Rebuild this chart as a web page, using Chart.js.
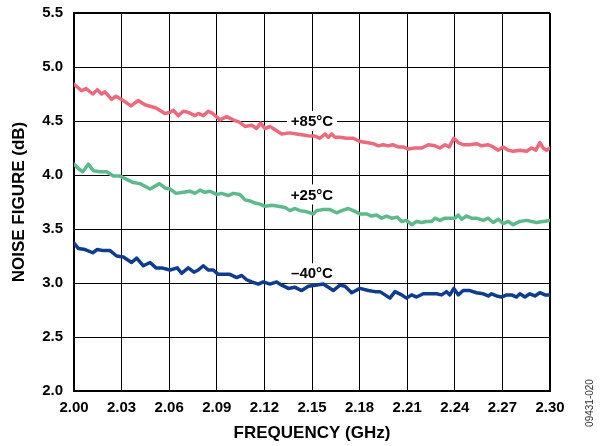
<!DOCTYPE html>
<html>
<head>
<meta charset="utf-8">
<script src="https://cdn.jsdelivr.net/npm/chart.js@4.4.1/dist/chart.umd.min.js"></script>
<style>
  html, body { margin: 0; padding: 0; background: #fff; }
</style>
</head>
<body>
<canvas id="nfChart" width="600" height="446"></canvas>
<script>
"use strict";

// noise figure vs frequency
var freq85 = [2.000, 2.0048, 2.0076, 2.0118, 2.0147, 2.0174, 2.0195, 2.0237, 2.0265, 2.0300,
  2.0359, 2.0405, 2.0447, 2.0517, 2.0573, 2.0605, 2.0626, 2.0657, 2.0689, 2.0720,
  2.0762, 2.0783, 2.0815, 2.0846, 2.0874, 2.0920, 2.0962, 2.1004, 2.1042, 2.1078,
  2.1120, 2.1151, 2.1176, 2.1204, 2.1235, 2.1277, 2.1309, 2.1361, 2.1403, 2.1445,
  2.1487, 2.1519, 2.1550, 2.1582, 2.1603, 2.1624, 2.1645, 2.1676, 2.1718, 2.1760,
  2.1802, 2.1844, 2.1886, 2.1918, 2.1949, 2.1981, 2.2008, 2.2044, 2.2075, 2.2107,
  2.2149, 2.2191, 2.2233, 2.2275, 2.2306, 2.2338, 2.2365, 2.2394, 2.2422, 2.2453,
  2.2495, 2.2537, 2.2569, 2.2611, 2.2642, 2.2674, 2.2705, 2.2737, 2.2768, 2.2810,
  2.2852, 2.2884, 2.2911, 2.2936, 2.2957, 2.2978, 2.3000];
var nf85 = [4.84, 4.78, 4.80, 4.75, 4.79, 4.75, 4.77, 4.70, 4.73, 4.70,
  4.64, 4.69, 4.65, 4.62, 4.57, 4.58, 4.60, 4.55, 4.59, 4.58,
  4.55, 4.57, 4.55, 4.59, 4.57, 4.51, 4.54, 4.51, 4.49, 4.45,
  4.46, 4.43, 4.48, 4.43, 4.45, 4.41, 4.38, 4.39, 4.38, 4.37,
  4.36, 4.36, 4.34, 4.38, 4.35, 4.38, 4.35, 4.35, 4.34, 4.34,
  4.31, 4.30, 4.29, 4.27, 4.28, 4.27, 4.28, 4.26, 4.26, 4.24,
  4.25, 4.25, 4.28, 4.27, 4.25, 4.28, 4.26, 4.34, 4.30, 4.28,
  4.28, 4.29, 4.27, 4.28, 4.26, 4.23, 4.26, 4.23, 4.22, 4.23,
  4.22, 4.25, 4.23, 4.30, 4.25, 4.23, 4.25];

var freq25 = [2.000, 2.0027, 2.0055, 2.0090, 2.0122, 2.0164, 2.0206, 2.0248, 2.0290, 2.0332,
  2.0374, 2.0416, 2.0479, 2.0538, 2.0573, 2.0605, 2.0643, 2.0689, 2.0731, 2.0762,
  2.0794, 2.0825, 2.0857, 2.0899, 2.0930, 2.0972, 2.1004, 2.1046, 2.1078, 2.1109,
  2.1141, 2.1172, 2.1204, 2.1246, 2.1288, 2.1330, 2.1361, 2.1393, 2.1424, 2.1466,
  2.1508, 2.1529, 2.1571, 2.1613, 2.1655, 2.1687, 2.1729, 2.1760, 2.1802, 2.1844,
  2.1876, 2.1907, 2.1939, 2.1970, 2.2002, 2.2037, 2.2065, 2.2096, 2.2128, 2.2159,
  2.2191, 2.2222, 2.2254, 2.2275, 2.2306, 2.2338, 2.2369, 2.2401, 2.2422, 2.2443,
  2.2474, 2.2506, 2.2537, 2.2579, 2.2611, 2.2642, 2.2674, 2.2705, 2.2737, 2.2768,
  2.2810, 2.2852, 2.2884, 2.2915, 2.2957, 2.3000];
var nf25 = [4.10, 4.06, 4.03, 4.10, 4.04, 4.03, 4.03, 3.99, 3.99, 3.96,
  3.93, 3.92, 3.87, 3.92, 3.88, 3.87, 3.83, 3.84, 3.85, 3.83,
  3.86, 3.84, 3.85, 3.82, 3.83, 3.81, 3.83, 3.82, 3.77, 3.76,
  3.74, 3.73, 3.71, 3.72, 3.71, 3.70, 3.67, 3.69, 3.67, 3.66,
  3.64, 3.67, 3.68, 3.68, 3.65, 3.67, 3.69, 3.67, 3.64, 3.64,
  3.62, 3.63, 3.60, 3.62, 3.60, 3.61, 3.57, 3.58, 3.54, 3.57,
  3.56, 3.57, 3.57, 3.60, 3.58, 3.60, 3.60, 3.60, 3.63, 3.59,
  3.62, 3.60, 3.60, 3.58, 3.60, 3.56, 3.59, 3.55, 3.57, 3.54,
  3.57, 3.58, 3.57, 3.56, 3.57, 3.58];

var freqM40 = [2.000, 2.0027, 2.0070, 2.0118, 2.0147, 2.0185, 2.0227, 2.0269, 2.0311, 2.0363,
  2.0395, 2.0437, 2.0479, 2.0517, 2.0552, 2.0605, 2.0651, 2.0678, 2.0720, 2.0756,
  2.0783, 2.0815, 2.0846, 2.0878, 2.0909, 2.0941, 2.0983, 2.1025, 2.1057, 2.1088,
  2.1120, 2.1162, 2.1193, 2.1235, 2.1277, 2.1309, 2.1351, 2.1393, 2.1435, 2.1477,
  2.1519, 2.1571, 2.1603, 2.1634, 2.1676, 2.1708, 2.1750, 2.1802, 2.1855, 2.1897,
  2.1928, 2.1960, 2.1991, 2.2023, 2.2065, 2.2096, 2.2128, 2.2159, 2.2201, 2.2243,
  2.2285, 2.2317, 2.2348, 2.2369, 2.2394, 2.2422, 2.2453, 2.2495, 2.2537, 2.2579,
  2.2611, 2.2632, 2.2663, 2.2695, 2.2726, 2.2758, 2.2789, 2.2810, 2.2842, 2.2873,
  2.2905, 2.2936, 2.2968, 2.3000];
var nfM40 = [3.37, 3.32, 3.31, 3.28, 3.31, 3.30, 3.30, 3.25, 3.24, 3.19,
  3.23, 3.16, 3.19, 3.14, 3.14, 3.12, 3.14, 3.09, 3.14, 3.10,
  3.12, 3.16, 3.12, 3.12, 3.08, 3.08, 3.08, 3.05, 3.07, 3.03,
  3.01, 2.99, 3.01, 2.99, 3.01, 2.98, 2.95, 2.96, 2.93, 2.97,
  2.98, 2.99, 2.96, 2.93, 2.98, 2.97, 2.91, 2.95, 2.93, 2.92,
  2.92, 2.89, 2.86, 2.92, 2.89, 2.86, 2.89, 2.87, 2.90, 2.90,
  2.90, 2.89, 2.92, 2.89, 2.95, 2.89, 2.93, 2.93, 2.91, 2.90,
  2.88, 2.90, 2.88, 2.87, 2.89, 2.89, 2.87, 2.90, 2.87, 2.90,
  2.88, 2.91, 2.89, 2.89];

var xTicks = [2.00, 2.03, 2.06, 2.09, 2.12, 2.15, 2.18, 2.21, 2.24, 2.27, 2.30];
var yTicks = [2.0, 2.5, 3.0, 3.5, 4.0, 4.5, 5.0, 5.5];

var curveNames = ['+85°C', '+25°C', '\u201340°C'];
var curveColors = ['#ea6a7e', '#5fb98c', '#0f3c8c'];
// where each curve name sits (GHz, dB)
var nameFreq = [2.15, 2.15, 2.15];
var nameNF = [4.5, 3.82, 3.09];

function toPoints(xs, ys) {
  return xs.map(function (x, i) { return { x: x, y: ys[i] }; });
}

var FONT = '"Liberation Sans", Arial, sans-serif';

var curveLabelPlugin = {
  id: 'curveLabels',
  beforeDatasetsDraw: function (chart) {
    var c = chart.ctx;
    var xs = chart.scales.x;
    var ys = chart.scales.y;
    c.save();
    c.font = 'bold 15px ' + FONT;
    c.textAlign = 'center';
    c.textBaseline = 'middle';
    curveNames.forEach(function (name, i) {
      var px = xs.getPixelForValue(nameFreq[i]);
      var py = ys.getPixelForValue(nameNF[i]);
      var w = c.measureText(name).width + 8;
      c.fillStyle = '#fff';
      c.fillRect(px - w / 2, py - 10, w, 20);
      c.fillStyle = '#000';
      c.fillText(name, px, py + 1);
    });
    c.restore();
  },
  afterDraw: function (chart) {
    var c = chart.ctx;
    c.save();
    c.font = '10px ' + FONT;
    c.fillStyle = '#333';
    c.translate(590, 403);
    c.rotate(-Math.PI / 2);
    c.textAlign = 'center';
    c.textBaseline = 'middle';
    c.fillText('09431-020', 0, 0);
    c.restore();
  }
};

var ctx = document.getElementById('nfChart');
var nfChart = new Chart(ctx, {
  type: 'line',
  data: {
    datasets: [
      { label: curveNames[0], data: toPoints(freq85, nf85), borderColor: curveColors[0] },
      { label: curveNames[1], data: toPoints(freq25, nf25), borderColor: curveColors[1] },
      { label: curveNames[2], data: toPoints(freqM40, nfM40), borderColor: curveColors[2] }
    ]
  },
  options: {
    responsive: false,
    animation: false,
    layout: { padding: { top: 13, right: 50, bottom: 0, left: 0 } },
    elements: {
      line: { borderWidth: 3.5, tension: 0, borderJoinStyle: 'round', borderCapStyle: 'round' },
      point: { radius: 0 }
    },
    plugins: {
      legend: { display: false },
      tooltip: { enabled: false }
    },
    scales: {
      x: {
        type: 'linear',
        min: 2.0,
        max: 2.3,
        afterBuildTicks: function (scale) {
          scale.ticks = xTicks.map(function (v) { return { value: v }; });
        },
        afterFit: function (scale) { scale.height = 55; },
        ticks: {
          autoSkip: false,
          maxRotation: 0,
          padding: 8,
          color: '#000',
          font: { family: FONT, size: 15, weight: 'bold' },
          callback: function (v) { return Number(v).toFixed(2); }
        },
        grid: {
          color: '#000',
          drawTicks: false,
          lineWidth: function (context) {
            return context.tick && context.tick.value === 2.3 ? 2 : 1;
          }
        },
        border: { color: '#000', width: 2 },
        title: {
          display: true,
          text: 'FREQUENCY (GHz)',
          color: '#000',
          font: { family: FONT, size: 17, weight: 'bold' },
          padding: { top: 0, bottom: 2 }
        }
      },
      y: {
        type: 'linear',
        min: 2.0,
        max: 5.5,
        afterBuildTicks: function (scale) {
          scale.ticks = yTicks.map(function (v) { return { value: v }; });
        },
        afterFit: function (scale) {
          scale.width = 74;
          scale.paddingTop = 0;
          scale.paddingBottom = 0;
        },
        ticks: {
          padding: 11,
          color: '#000',
          font: { family: FONT, size: 15, weight: 'bold' },
          callback: function (v) { return Number(v).toFixed(1); }
        },
        grid: {
          color: '#000',
          drawTicks: false,
          lineWidth: function (context) {
            return context.tick && context.tick.value === 5.5 ? 2 : 1;
          }
        },
        border: { color: '#000', width: 2 },
        title: {
          display: true,
          text: 'NOISE FIGURE (dB)',
          color: '#000',
          font: { family: FONT, size: 17, weight: 'bold' },
          padding: { top: 9, bottom: 0 }
        }
      }
    }
  },
  plugins: [curveLabelPlugin]
});
</script>
</body>
</html>
